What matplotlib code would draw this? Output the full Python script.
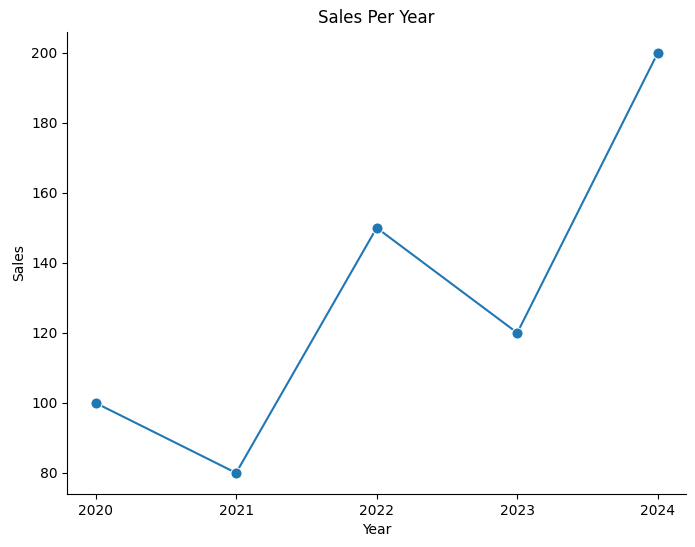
import matplotlib
matplotlib.use("Agg")
import matplotlib.pyplot as plt
import seaborn as sns

years = [2020, 2021, 2022, 2023, 2024]
sales = [100, 80, 150, 120, 200]

fig, ax = plt.subplots(figsize=(6.95, 5.47), dpi=100)
sns.lineplot(x=years, y=sales, marker='o', markersize=8, ax=ax)
ax.set_xticks(years)
ax.set_title("Sales Per Year")
ax.set_xlabel("Year")
ax.set_ylabel("Sales")
sns.despine()
fig.subplots_adjust(left=0.097, right=0.987, top=0.942, bottom=0.097)
fig.savefig("out.png")
